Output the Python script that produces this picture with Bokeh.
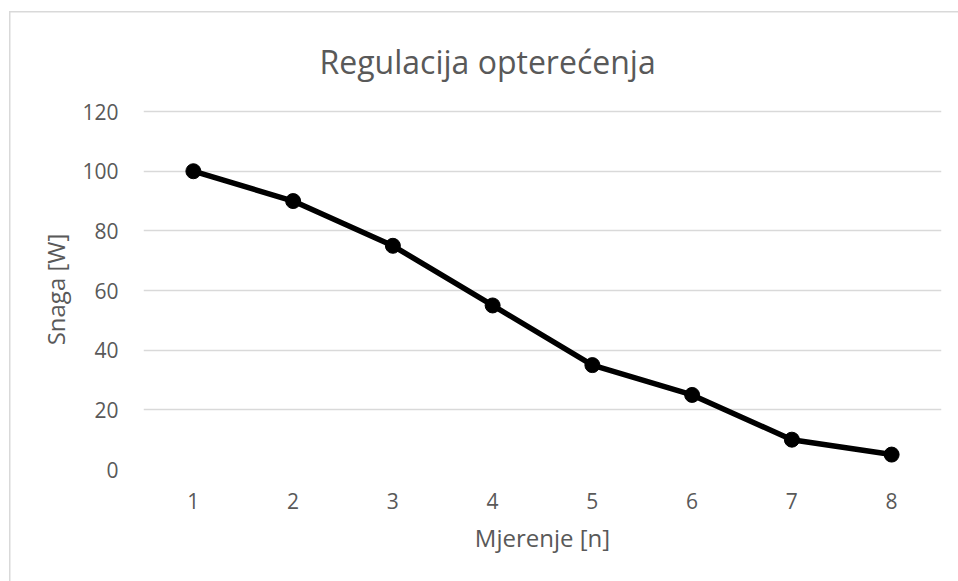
from bokeh.plotting import figure
from bokeh.models import Range1d, FactorRange, Title
from bokeh.embed import file_html
from bokeh.resources import INLINE

categories = ["1", "2", "3", "4", "5", "6", "7", "8"]
snaga = [100, 90, 75, 55, 35, 25, 10, 5]
y_ticks = [0, 20, 40, 60, 80, 100, 120]

title_text = "Regulacija opterećenja"
x_label = "Mjerenje [n]"
y_label = "Snaga [W]"

FONT = "Open Sans"
TXT = "#595959"
GRID = "#d9d9d9"

p = figure(width=958, height=581, x_range=FactorRange(*categories), y_range=Range1d(0, 120.7),
           output_backend="svg", toolbar_location=None,
           min_border_left=143, min_border_right=17, min_border_top=109, min_border_bottom=112)
p.styles = {
    "background": ("linear-gradient(#d9d9d9, #d9d9d9) 10px 11px / 948px 1.5px no-repeat, "
                   "linear-gradient(#d9d9d9, #d9d9d9) 9px 11px / 1.5px 570px no-repeat, white"),
}
p.outline_line_color = None
p.background_fill_color = "white"
p.border_fill_color = None

p.line(categories, snaga, line_color="black", line_width=5.5)
p.scatter(categories, snaga, size=15, fill_color="black", line_color="black")

p.yaxis.ticker = y_ticks
for ax in (p.xaxis[0], p.yaxis[0]):
    ax.axis_line_color = None
    ax.major_tick_line_color = None
    ax.minor_tick_line_color = None
    ax.major_tick_out = 0
    ax.major_tick_in = 0
    ax.major_label_text_font = FONT
    ax.major_label_text_color = TXT
    ax.major_label_text_font_size = "21px"
    ax.axis_label_text_font = FONT
    ax.axis_label_text_color = TXT
    ax.axis_label_text_font_size = "24px"
    ax.axis_label_text_font_style = "normal"

p.xaxis.axis_label = x_label
p.yaxis.axis_label = y_label
p.yaxis.major_label_standoff = 25
p.xaxis.major_label_standoff = 23
p.yaxis.axis_label_standoff = 7
p.xaxis.axis_label_standoff = 9

p.xgrid.grid_line_color = None
p.ygrid.grid_line_color = GRID
p.ygrid.grid_line_width = 1.5

p.title = Title(text=title_text, align="left", offset=176, text_font=FONT,
                text_font_size="32px", text_color=TXT, text_font_style="normal",
                vertical_align="top", standoff=50)

open("out.html", "w").write(file_html(p, INLINE))
